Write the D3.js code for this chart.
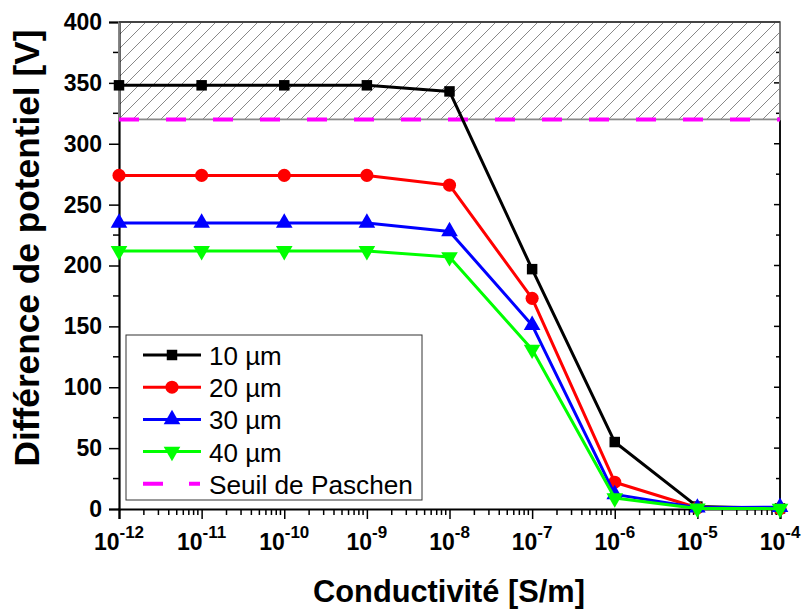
<!DOCTYPE html>
<html><head><meta charset="utf-8">
<script src="https://cdn.jsdelivr.net/npm/d3@7"></script>
<style>body{margin:0;background:#fff}svg{display:block}text{font-family:"Liberation Sans",Arial,sans-serif}</style>
</head><body>
<svg id="c" width="802" height="610"></svg>
<script>
const exponents = [-12,-11,-10,-9,-8,-7,-6,-5,-4];
const conductivity = exponents.map(e => Math.pow(10, e));
const v10 = [348, 348, 348, 348, 343, 197, 55, 2, 0.5];
const v20 = [274, 274, 274, 274, 266, 173, 22, 1, 0.3];
const v30 = [235, 235, 235, 235, 228, 151, 12, 1, 1.5];
const v40 = [212, 212, 212, 212, 207, 131, 9, 0.5, 0.3];
const seriesNames = ["10 µm","20 µm","30 µm","40 µm"];
const seriesColors = ["#000000","#ff0000","#0000ff","#00ff00"];
const seriesSymbols = [d3.symbolSquare, d3.symbolCircle, d3.symbolTriangle, d3.symbolTriangle];
const paschen = 320;
const yMax = 400;
const yTicks = [0,50,100,150,200,250,300,350,400];

const svg = d3.select("#c");
const L=119, R=780, T=22, B=509;
const x = d3.scaleLog().domain([1e-12,1e-4]).range([L,R]);
const y = d3.scaleLinear().domain([0,400]).range([B,T]);
const yMinor = d3.range(0,401,25);

function fit(sel, target){
  const fs = +sel.attr("font-size");
  const w = sel.node().getComputedTextLength();
  sel.attr("font-size", (fs*target/w).toFixed(2));
}

// hatch pattern
const defs = svg.append("defs");
const pat = defs.append("pattern").attr("id","hatch").attr("patternUnits","userSpaceOnUse")
  .attr("width",14).attr("height",14);
pat.append("path").attr("d","M-3.5,3.5 l7,-7 M0,14 l14,-14 M10.5,17.5 l7,-7")
  .attr("stroke","#7a7a7a").attr("stroke-width",0.9);
svg.append("rect").attr("x",L).attr("y",y(yMax)).attr("width",R-L).attr("height",y(paschen)-y(yMax))
  .attr("fill","url(#hatch)");

// frame right (black) 
svg.append("line").attr("x1",R).attr("x2",R).attr("y1",T).attr("y2",B).attr("stroke","#111").attr("stroke-width",2);
svg.selectAll(".rt").data(yMinor).enter().append("line")
  .attr("x1",R).attr("x2",d => R - (d%50===0?6:4)).attr("y1",d=>y(d)).attr("y2",d=>y(d))
  .attr("stroke","#000").attr("stroke-width",1.5);

// Y axis
const yAxis = d3.axisLeft(y).tickValues(yTicks).tickSize(10).tickPadding(7).tickFormat(d3.format("d"));
const gy = svg.append("g").attr("transform",`translate(${L},0)`).call(yAxis);
gy.select(".domain").attr("stroke-width",2.2);
gy.selectAll(".tick line").attr("stroke-width",1.5);
gy.selectAll(".tick text").attr("font-size",23).attr("font-weight","bold").attr("fill","#000");
svg.selectAll(".ym").data(yMinor.filter(d=>d%50!==0)).enter().append("line")
  .attr("x1",L).attr("x2",L-6).attr("y1",d=>y(d)).attr("y2",d=>y(d)).attr("stroke","#000").attr("stroke-width",1.5);

// X axis
const xAxis = d3.axisBottom(x).tickValues(conductivity).tickSize(10).tickFormat("");
const gx = svg.append("g").attr("transform",`translate(0,${B})`).call(xAxis);
gx.select(".domain").attr("stroke-width",2.2);
gx.selectAll(".tick line").attr("stroke-width",1.5);
const minors = [];
for (let e=-12;e<-4;e++) for (let m=2;m<=9;m++) minors.push(m*Math.pow(10,e));
svg.selectAll(".xm").data(minors).enter().append("line")
  .attr("x1",d=>x(d)).attr("x2",d=>x(d)).attr("y1",B).attr("y2",B+6).attr("stroke","#000").attr("stroke-width",1.5);
const xl = svg.selectAll(".xl").data(exponents).enter().append("text")
  .attr("x",d=>x(Math.pow(10,d))).attr("y",B+41).attr("text-anchor","middle")
  .attr("font-weight","bold").attr("font-size",23).attr("fill","#000");
xl.append("tspan").text("10");
xl.append("tspan").attr("dy",-12).attr("font-size",17).text(d=>String(d));

// hatch border over axes (gray)
svg.append("rect").attr("x",L).attr("y",y(yMax)).attr("width",R-L).attr("height",y(paschen)-y(yMax))
  .attr("fill","none").attr("stroke","#8a8a8a").attr("stroke-width",1.8);
svg.append("line").attr("x1",L).attr("x2",R).attr("y1",T).attr("y2",T).attr("stroke","#444").attr("stroke-width",2);

// Paschen threshold
svg.append("line").attr("x1",L).attr("x2",R).attr("y1",y(paschen)).attr("y2",y(paschen))
  .attr("stroke","#ff00ff").attr("stroke-width",4).attr("stroke-dasharray","20,27");

// series
const allSeries = [v10,v20,v30,v40];
const line = d3.line().x((d,i)=>x(conductivity[i])).y(d=>y(d));
allSeries.forEach((vals,k)=>{
  svg.append("path").datum(vals).attr("d",line).attr("fill","none")
    .attr("stroke",seriesColors[k]).attr("stroke-width",3).attr("stroke-linejoin","round");
  svg.selectAll(".m"+k).data(vals).enter().append("path")
    .attr("d", d3.symbol().type(seriesSymbols[k]).size(k===0?110:(k===1?135:120)))
    .attr("transform",(d,i)=>`translate(${x(conductivity[i])},${y(d)})${k===3?" rotate(180)":""}`)
    .attr("fill",seriesColors[k]);
});

// titles
const xt = svg.append("text").attr("x",449).attr("y",602).attr("text-anchor","middle").attr("font-weight","bold")
  .attr("font-size",30).text("Conductivité [S/m]");
fit(xt, 272);
const yt = svg.append("text").attr("transform","translate(39,248) rotate(-90)").attr("text-anchor","middle")
  .attr("font-weight","bold").attr("font-size",26).text("Différence de potentiel [V]");
fit(yt, 437);

// legend
const lg = svg.append("g");
lg.append("rect").attr("x",126).attr("y",335).attr("width",296).attr("height",165)
  .attr("fill","#fff").attr("stroke","#333").attr("stroke-width",1);
const legItems = seriesNames.map((n,i)=>({name:n,color:seriesColors[i],sym:seriesSymbols[i],flip:i===3,dash:false}))
  .concat([{name:"Seuil de Paschen",color:"#ff00ff",sym:null,dash:true}]);
legItems.forEach((it,i)=>{
  const yy = 355 + i*32.2;
  if (it.dash) {
    lg.append("line").attr("x1",143).attr("x2",200).attr("y1",yy).attr("y2",yy)
      .attr("stroke",it.color).attr("stroke-width",4).attr("stroke-dasharray","20,26");
  } else {
    lg.append("line").attr("x1",143).attr("x2",201).attr("y1",yy).attr("y2",yy)
      .attr("stroke",it.color).attr("stroke-width",3);
    lg.append("path").attr("d",d3.symbol().type(it.sym).size(i===1?135:(i===0?110:120)))
      .attr("transform",`translate(172,${yy})${it.flip?" rotate(180)":""}`).attr("fill",it.color);
  }
  const t = lg.append("text").attr("x",209).attr("y",yy+10).attr("font-size",26).text(it.name);
  if (i===4) fit(t, 204);
});
</script>
</body></html>
